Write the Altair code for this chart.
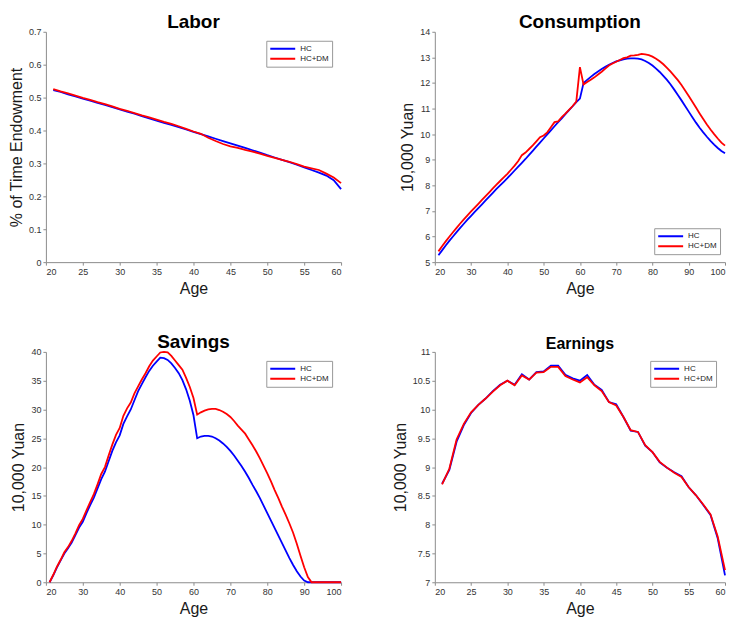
import altair as alt
import pandas as pd

# ---------------- data ----------------
ages_work = list(range(21, 61))
ages_life = list(range(21, 101))
models = ["HC", "HC+DM"]
colors = ["#0000ff", "#ff0000"]

labor_hc = [0.523, 0.517, 0.510, 0.504, 0.497, 0.491, 0.484, 0.478, 0.471, 0.464,
            0.457, 0.451, 0.444, 0.437, 0.430, 0.423, 0.417, 0.410, 0.403, 0.396,
            0.389, 0.382, 0.375, 0.368, 0.361, 0.354, 0.347, 0.340, 0.333, 0.325,
            0.318, 0.311, 0.304, 0.296, 0.288, 0.280, 0.272, 0.263, 0.249, 0.222]
labor_dm = [0.526, 0.519, 0.513, 0.506, 0.499, 0.493, 0.486, 0.480, 0.473, 0.466,
            0.460, 0.453, 0.446, 0.440, 0.433, 0.426, 0.420, 0.413, 0.405, 0.397,
            0.390, 0.378, 0.368, 0.359, 0.352, 0.347, 0.341, 0.336, 0.330, 0.323,
            0.317, 0.311, 0.305, 0.298, 0.290, 0.285, 0.280, 0.269, 0.257, 0.240]

cons_hc = [5.27, 5.46, 5.65, 5.83, 6.00, 6.17, 6.34, 6.50, 6.66, 6.81,
           6.96, 7.11, 7.26, 7.41, 7.56, 7.71, 7.86, 8.00, 8.14, 8.28,
           8.43, 8.58, 8.73, 8.88, 9.03, 9.19, 9.35, 9.51, 9.67, 9.83,
           9.99, 10.15, 10.31, 10.47, 10.62, 10.78, 10.94, 11.09, 11.25, 11.39,
           12.00, 12.12, 12.24, 12.35, 12.45, 12.55, 12.63, 12.71, 12.78, 12.84,
           12.88, 12.92, 12.95, 12.96, 12.96, 12.95, 12.92, 12.86, 12.78, 12.68,
           12.56, 12.43, 12.28, 12.12, 11.94, 11.74, 11.53, 11.32, 11.10, 10.88,
           10.66, 10.45, 10.25, 10.07, 9.90, 9.74, 9.59, 9.46, 9.34, 9.25]
cons_dm = [5.42, 5.62, 5.81, 5.99, 6.17, 6.34, 6.51, 6.67, 6.83, 6.98,
           7.13, 7.28, 7.43, 7.58, 7.73, 7.88, 8.03, 8.17, 8.31, 8.45,
           8.61, 8.77, 8.95, 9.18, 9.28, 9.42, 9.56, 9.72, 9.88, 9.95,
           10.07, 10.27, 10.47, 10.50, 10.67, 10.80, 10.95, 11.10, 11.27, 12.62,
           11.94, 12.04, 12.13, 12.22, 12.33, 12.44, 12.56, 12.68, 12.76, 12.83,
           12.90, 12.97, 13.00, 13.07, 13.08, 13.10, 13.14, 13.12, 13.09, 13.03,
           12.95, 12.85, 12.73, 12.59, 12.44, 12.28, 12.11, 11.92, 11.71, 11.49,
           11.27, 11.04, 10.81, 10.59, 10.38, 10.18, 10.00, 9.83, 9.67, 9.55]

sav_hc = [0.0, 1.2, 2.6, 3.8, 5.0, 5.9, 6.9, 8.2, 9.5, 10.5,
          12.0, 13.4, 14.7, 16.3, 17.9, 19.2, 21.0, 22.8, 24.3, 25.5,
          27.5, 28.8, 30.0, 31.6, 33.2, 34.4, 35.6, 36.7, 37.6, 38.3,
          39.0, 38.9, 38.6, 38.0, 37.2, 36.3, 35.1, 33.5, 31.5, 29.0,
          25.0, 25.3, 25.4, 25.4, 25.3, 25.0, 24.6, 24.1, 23.5, 22.8,
          22.0, 21.1, 20.2, 19.2, 18.1, 16.9, 15.8, 14.6, 13.3, 12.0,
          10.7, 9.4, 8.1, 6.8, 5.5, 4.2, 3.0, 1.9, 1.0, 0.3,
          0.0, 0.0, 0.0, 0.0, 0.0, 0.0, 0.0, 0.0, 0.0, 0.0]
sav_dm = [0.0, 1.3, 2.7, 3.9, 5.2, 6.1, 7.2, 8.5, 9.9, 11.0,
          12.5, 13.9, 15.3, 17.0, 18.8, 20.0, 22.0, 23.9, 25.6, 26.8,
          28.9, 30.2, 31.2, 32.8, 34.0, 35.2, 36.3, 37.5, 38.5, 39.2,
          39.9, 40.0, 39.9, 39.3, 38.5, 37.7, 36.9, 35.5, 33.9, 32.0,
          29.1, 29.5, 29.8, 30.0, 30.1, 30.1, 29.9, 29.6, 29.2, 28.7,
          28.0, 27.2, 26.5, 25.8, 24.8, 23.8, 22.7, 21.5, 20.2, 18.9,
          17.5, 16.0, 14.6, 13.1, 11.7, 10.2, 8.6, 6.7, 4.6, 2.6,
          0.9, 0.0, 0.0, 0.0, 0.0, 0.0, 0.0, 0.0, 0.0, 0.0]

earn_hc = [8.71, 8.95, 9.44, 9.73, 9.94, 10.08, 10.19, 10.32, 10.43, 10.50,
           10.43, 10.61, 10.52, 10.65, 10.66, 10.76, 10.76, 10.60, 10.54, 10.50,
           10.60, 10.43, 10.34, 10.13, 10.09, 9.87, 9.63, 9.61, 9.37, 9.26,
           9.08, 8.99, 8.91, 8.84, 8.65, 8.51, 8.34, 8.17, 7.76, 7.12]
earn_dm = [8.70, 8.97, 9.48, 9.75, 9.95, 10.08, 10.19, 10.31, 10.42, 10.50,
           10.42, 10.59, 10.52, 10.64, 10.65, 10.74, 10.74, 10.58, 10.52, 10.47,
           10.56, 10.42, 10.32, 10.13, 10.07, 9.87, 9.64, 9.61, 9.38, 9.26,
           9.09, 8.99, 8.90, 8.83, 8.65, 8.51, 8.35, 8.18, 7.79, 7.21]

FONT = "Liberation Sans"


def panel(ages, hc, dm, title, title_size, xdom, xticks, ydom, yticks, ytitle,
          legend, width):
    df = pd.DataFrame({
        "Age": ages + ages,
        "Value": hc + dm,
        "Model": [models[0]] * len(ages) + [models[1]] * len(ages),
    })
    return alt.Chart(
        df,
        title=alt.Title(title, fontSize=title_size, frame="group"),
    ).mark_line(strokeWidth=1.8).encode(
        x=alt.X("Age:Q",
                scale=alt.Scale(domain=xdom, nice=False, zero=False),
                axis=alt.Axis(values=xticks, title="Age", format="~f")),
        y=alt.Y("Value:Q",
                scale=alt.Scale(domain=ydom, nice=False, zero=False),
                axis=alt.Axis(values=yticks, title=ytitle, format="~f")),
        color=alt.Color("Model:N",
                        scale=alt.Scale(domain=models, range=colors),
                        legend=legend),
        order=alt.Order("Age:Q"),
    ).properties(width=width, height=231)


leg_tr = alt.Legend(title=None, orient="top-right", offset=9)
leg_cons = alt.Legend(title=None, orient="none", legendX=220, legendY=197)

labor = panel(ages_work, labor_hc, labor_dm, "Labor", 19, [20, 60],
              list(range(20, 61, 5)), [0, 0.7],
              [0, 0.1, 0.2, 0.3, 0.4, 0.5, 0.6, 0.7],
              "% of Time Endowment", leg_tr, 296)
cons = panel(ages_life, cons_hc, cons_dm, "Consumption", 19, [20, 100],
             list(range(20, 101, 10)), [5, 14], list(range(5, 15)),
             "10,000 Yuan", leg_cons, 291)
sav = panel(ages_life, sav_hc, sav_dm, "Savings", 19, [20, 100],
            list(range(20, 101, 10)), [0, 40], list(range(0, 41, 5)),
            "10,000 Yuan", leg_tr, 296)
earn = panel(ages_work, earn_hc, earn_dm, "Earnings", 16, [20, 60],
             list(range(20, 61, 5)), [7, 11],
             [7, 7.5, 8, 8.5, 9, 9.5, 10, 10.5, 11],
             "10,000 Yuan", leg_tr, 291)

chart = alt.concat(
    labor, cons, sav, earn, columns=2, spacing={"row": 37, "column": 47}
).resolve_scale(
    x="independent", y="independent", color="independent"
).resolve_legend(
    color="independent"
).properties(
    padding={"top": 4, "left": 0, "right": 0, "bottom": 0}
).configure_view(
    stroke=None
).configure_axis(
    grid=False,
    labelFont=FONT, titleFont=FONT,
    labelFontSize=9, titleFontSize=16, titleFontWeight="normal",
    labelColor="#333333", titleColor="#1a1a1a",
    domainColor="#8c8c8c", tickColor="#8c8c8c", tickSize=3,
    labelPadding=2, titlePadding=4,
).configure_title(
    font=FONT, fontWeight="bold", color="black", anchor="middle", offset=-4,
).configure_legend(
    labelFont=FONT, labelFontSize=8, labelColor="#222222",
    symbolType="stroke", symbolSize=625, symbolStrokeWidth=2,
    clipHeight=10, rowPadding=0, padding=3, labelOffset=4,
    strokeColor="#999999", fillColor="white", cornerRadius=0,
)

chart.save("out.html", embed_options={"renderer": "svg", "actions": False})
